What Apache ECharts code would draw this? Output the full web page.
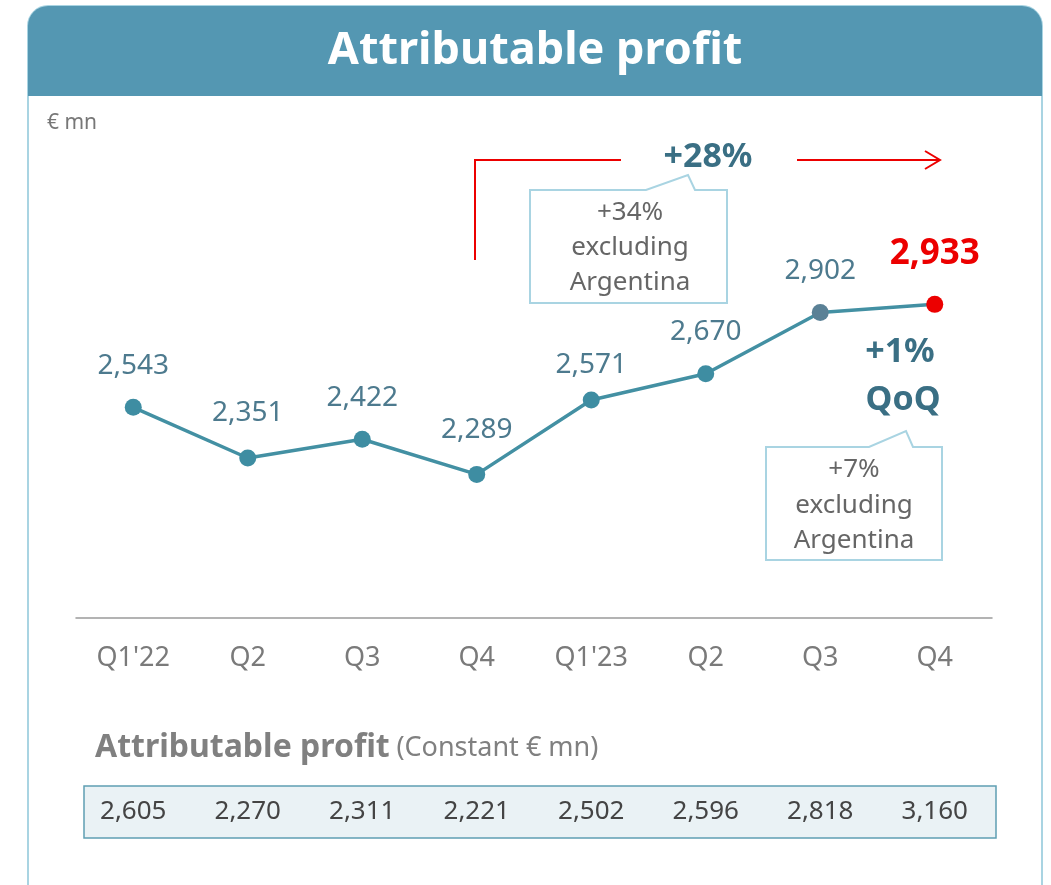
<!DOCTYPE html>
<html>
<head>
<meta charset="utf-8">
<title>Attributable profit</title>
<script src="https://cdn.jsdelivr.net/npm/echarts@6/dist/echarts.min.js"></script>
<style>
  html, body { margin: 0; padding: 0; background: #fff; }
  #chart { width: 1051px; height: 885px; }
</style>
</head>
<body>
<div id="chart"></div>
<script>
const quarters = ["Q1'22", 'Q2', 'Q3', 'Q4', "Q1'23", 'Q2', 'Q3', 'Q4'];
const profit = [2543, 2351, 2422, 2289, 2571, 2670, 2902, 2933];
const profitConstant = [2605, 2270, 2311, 2221, 2502, 2596, 2818, 3160];

const fontFamily = '"Noto Sans", "Open Sans", sans-serif';
const teal = '#4390a3';
const labelBlue = '#4d7a8e';
const darkBlue = '#3a6f84';
const boxBlue = '#a9d4e2';
const red = '#ec0000';

const fmt = new Intl.NumberFormat('en-US');

// label gap above each marker (the original nudges a few of them)
const labelGap = [19, 22, 19, 22, 12, 19, 19, 24];

const lineData = profit.map((v, i) => {
  const item = { value: v, label: { distance: labelGap[i] } };
  if (i === profit.length - 2) {
    item.itemStyle = { color: '#5a8196' };
  }
  if (i === profit.length - 1) {
    item.itemStyle = { color: red };
    item.label = { distance: labelGap[i], color: red, fontWeight: 'bold', fontSize: 35 };
  }
  return item;
});

function callout(points) {
  return {
    type: 'polygon',
    shape: { points },
    style: { fill: '#fff', stroke: boxBlue, lineWidth: 2 },
  };
}

function text(x, y, str, style) {
  return {
    type: 'text',
    x,
    y,
    style: Object.assign({
      text: str,
      fontFamily,
      align: 'center',
      verticalAlign: 'middle',
    }, style),
  };
}

const option = {
  animation: false,
  backgroundColor: '#fff',
  grid: { left: 76, right: 59, top: 222, height: 396 },
  xAxis: [
    {
      type: 'category',
      data: quarters,
      axisLine: { lineStyle: { color: '#9a9a9a', width: 1.5 } },
      axisTick: { show: false },
      axisLabel: { color: '#7a7a7a', fontSize: 27, fontFamily, margin: 27 },
    },
    {
      type: 'category',
      data: profitConstant.map((v) => fmt.format(v)),
      position: 'bottom',
      offset: 173,
      z: 5,
      axisLine: { show: false },
      axisTick: { show: false },
      axisLabel: { color: '#444', fontSize: 26, fontFamily, margin: 8 },
    },
  ],
  yAxis: {
    type: 'value',
    min: 1745,
    max: 3245,
    show: false,
    splitLine: { show: false },
  },
  series: [
    {
      type: 'line',
      data: lineData,
      symbol: 'circle',
      symbolSize: 17,
      lineStyle: { color: teal, width: 3.5 },
      itemStyle: { color: '#3e8da2' },
      label: {
        show: true,
        position: 'top',
        color: labelBlue,
        fontSize: 28,
        fontFamily,
        formatter: (p) => fmt.format(p.value),
      },
      z: 3,
    },
  ],
  graphic: [
    // card outline and header band
    {
      type: 'rect',
      shape: { x: 28, y: 6, width: 1014, height: 920, r: 20 },
      style: { fill: '#fff', stroke: boxBlue, lineWidth: 2 },
      z: -10,
    },
    {
      type: 'rect',
      shape: { x: 28, y: 6, width: 1014, height: 90, r: [20, 20, 0, 0] },
      style: { fill: '#5497b2' },
      z: -9,
    },
    text(535, 51, 'Attributable profit', { fill: '#fff', fontSize: 45, fontWeight: 'bold' }),
    text(47, 123, '€ mn', { fill: '#777', fontSize: 21, align: 'left' }),

    // +28% bracket
    {
      type: 'polyline',
      shape: { points: [[475, 260], [475, 160], [621, 160]] },
      style: { stroke: red, lineWidth: 2, fill: null },
    },
    {
      type: 'polyline',
      shape: { points: [[797, 160], [940, 160]] },
      style: { stroke: red, lineWidth: 2, fill: null },
    },
    {
      type: 'polyline',
      shape: { points: [[925, 151], [940, 160], [925, 169]] },
      style: { stroke: red, lineWidth: 2, fill: null },
    },
    text(708, 157, '+28%', { fill: darkBlue, fontSize: 34, fontWeight: 'bold' }),
    callout([[530, 190], [646, 190], [688, 175], [695, 190], [727, 190], [727, 303], [530, 303]]),
    text(630, 213, '+34%', { fill: '#666', fontSize: 26 }),
    text(630, 248, 'excluding', { fill: '#666', fontSize: 26 }),
    text(630, 283, 'Argentina', { fill: '#666', fontSize: 26 }),

    // QoQ note
    text(900, 352, '+1%', { fill: darkBlue, fontSize: 34, fontWeight: 'bold' }),
    text(903, 400, 'QoQ', { fill: darkBlue, fontSize: 34, fontWeight: 'bold' }),
    callout([[766, 447], [869, 447], [906, 431], [913, 447], [942, 447], [942, 560], [766, 560]]),
    text(854, 470, '+7%', { fill: '#666', fontSize: 26 }),
    text(854, 506, 'excluding', { fill: '#666', fontSize: 26 }),
    text(854, 541, 'Argentina', { fill: '#666', fontSize: 26 }),

    // constant currency strip
    {
      type: 'text',
      x: 95,
      y: 748,
      style: {
        text: '{b|Attributable profit}  {n|(Constant € mn)}',
        verticalAlign: 'middle',
        rich: {
          b: { fontFamily, fontSize: 32, fontWeight: 'bold', fill: '#808080' },
          n: { fontFamily, fontSize: 27, fill: '#808080' },
        },
      },
    },
    {
      type: 'rect',
      shape: { x: 84, y: 786, width: 912, height: 52 },
      style: { fill: '#eaf2f5', stroke: '#5f9fb3', lineWidth: 1.5 },
      z: -5,
    },
  ],
};

const myChart = echarts.init(document.getElementById('chart'));
myChart.setOption(option);
</script>
</body>
</html>
